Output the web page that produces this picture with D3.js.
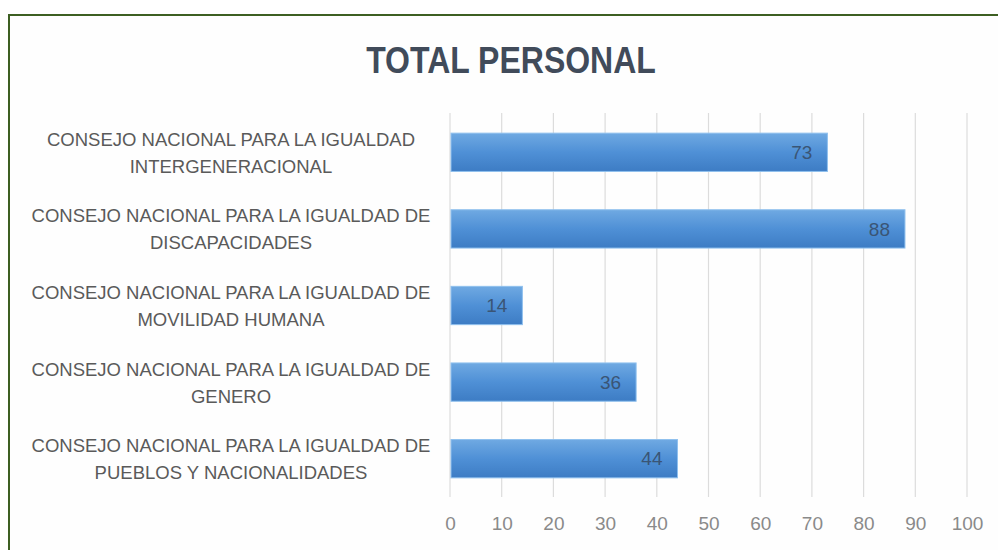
<!DOCTYPE html>
<html>
<head>
<meta charset="utf-8">
<script src="https://cdn.jsdelivr.net/npm/d3@7"></script>
<style>
  html, body { margin: 0; padding: 0; background: #fff; overflow: hidden; }
  svg { display: block; }
</style>
</head>
<body>
<script>
// data (top to bottom)
var categories = [
	"CONSEJO NACIONAL PARA LA IGUALDAD INTERGENERACIONAL",
	"CONSEJO NACIONAL PARA LA IGUALDAD DE DISCAPACIDADES",
	"CONSEJO NACIONAL PARA LA IGUALDAD DE MOVILIDAD HUMANA",
	"CONSEJO NACIONAL PARA LA IGUALDAD DE GENERO",
	"CONSEJO NACIONAL PARA LA IGUALDAD DE PUEBLOS Y NACIONALIDADES"
];
var personal = [73, 88, 14, 36, 44];
var ticks = [0, 10, 20, 30, 40, 50, 60, 70, 80, 90, 100];
var title = "TOTAL PERSONAL";

var W = 998, H = 550;
var font = "'Liberation Sans', Arial, sans-serif";

var svg = d3.select("body").append("svg")
	.attr("width", W).attr("height", H);

var defs = svg.append("defs");
var grad = defs.append("linearGradient")
	.attr("id", "barGrad").attr("x1", 0).attr("y1", 0).attr("x2", 0).attr("y2", 1);
grad.append("stop").attr("offset", "0%").attr("stop-color", "#6fa9e2");
grad.append("stop").attr("offset", "50%").attr("stop-color", "#4f90d6");
grad.append("stop").attr("offset", "100%").attr("stop-color", "#3d7cc4");

svg.append("rect")
	.attr("x", 0).attr("y", 0).attr("width", W).attr("height", H)
	.attr("fill", "#ffffff");

// green frame, only left and top are inside the picture
svg.append("rect")
	.attr("x", 9).attr("y", 15).attr("width", W + 20).attr("height", H + 20)
	.attr("fill", "#fefefe")
	.attr("stroke", "#3d5f22").attr("stroke-width", 2);

// title is a bit taller than wide in the original, so stretch it a little
svg.append("text")
	.attr("transform", "translate(511,73) scale(1,1.15)")
	.attr("text-anchor", "middle")
	.style("font-family", font).style("font-weight", "bold")
	.style("font-size", "32px")
	.attr("fill", "#414b5a")
	.text(title);

var x = d3.scaleLinear().domain([0, 100]).range([450, 967]);
var y = d3.scaleBand().domain(categories).range([114, 497])
	.paddingInner(0.5).paddingOuter(0.25);

// gridlines
svg.append("g").selectAll("line")
	.data(ticks)
	.enter()
	.append("line")
	.attr("x1", function(d) { return x(d); })
	.attr("x2", function(d) { return x(d); })
	.attr("y1", 113).attr("y2", 497)
	.attr("stroke", "#dcdcdc").attr("stroke-width", 1.2);

// x axis labels
var xAxis = d3.axisBottom(x).tickValues(ticks).tickSize(0).tickPadding(0);
var gx = svg.append("g").attr("transform", "translate(0,513)").call(xAxis);
gx.select(".domain").remove();
gx.selectAll("text")
	.style("font-family", font).style("font-size", "19px")
	.attr("fill", "#8a8a8a").attr("dy", "0.9em");

// bars
var rows = categories.map(function(c, i) { return {name: c, value: personal[i]}; });

svg.append("g").selectAll("rect")
	.data(rows)
	.enter()
	.append("rect")
	.attr("x", x(0) + 1)
	.attr("y", function(d) { return y(d.name); })
	.attr("width", function(d) { return x(d.value) - x(0) - 1; })
	.attr("height", y.bandwidth())
	.attr("fill", "url(#barGrad)")
	.attr("stroke", "#8fc0ee").attr("stroke-width", 1);

svg.append("g").selectAll("text")
	.data(rows)
	.enter()
	.append("text")
	.attr("x", function(d) { return x(d.value) - 15; })
	.attr("y", function(d) { return y(d.name) + y.bandwidth() / 2; })
	.attr("dy", "0.35em")
	.attr("text-anchor", "end")
	.style("font-family", font).style("font-size", "19px")
	.attr("fill", "#3a5575")
	.text(function(d) { return d.value; });

// category labels, wrapped in two lines like the original
var labels = svg.append("g").selectAll("text")
	.data(rows)
	.enter()
	.append("text")
	.attr("text-anchor", "middle")
	.style("font-family", font).style("font-size", "18.5px")
	.attr("fill", "#5a5a5a");

labels.each(function(d) {
	var t = d3.select(this);
	var words = d.name.split(" ");
	var line1 = [], rest = [];
	var probe = t.append("tspan");
	var full = true;
	words.forEach(function(w) {
		if (full) {
			probe.text(line1.concat([w]).join(" "));
			if (probe.node().getComputedTextLength() > 420) { full = false; rest.push(w); }
			else line1.push(w);
		} else rest.push(w);
	});
	probe.remove();
	var cy = y(d.name) + y.bandwidth() / 2;
	t.append("tspan").attr("x", 231).attr("y", cy - 13).attr("dy", "0.35em").text(line1.join(" "));
	t.append("tspan").attr("x", 231).attr("y", cy + 14).attr("dy", "0.35em").text(rest.join(" "));
});
</script>
</body>
</html>
